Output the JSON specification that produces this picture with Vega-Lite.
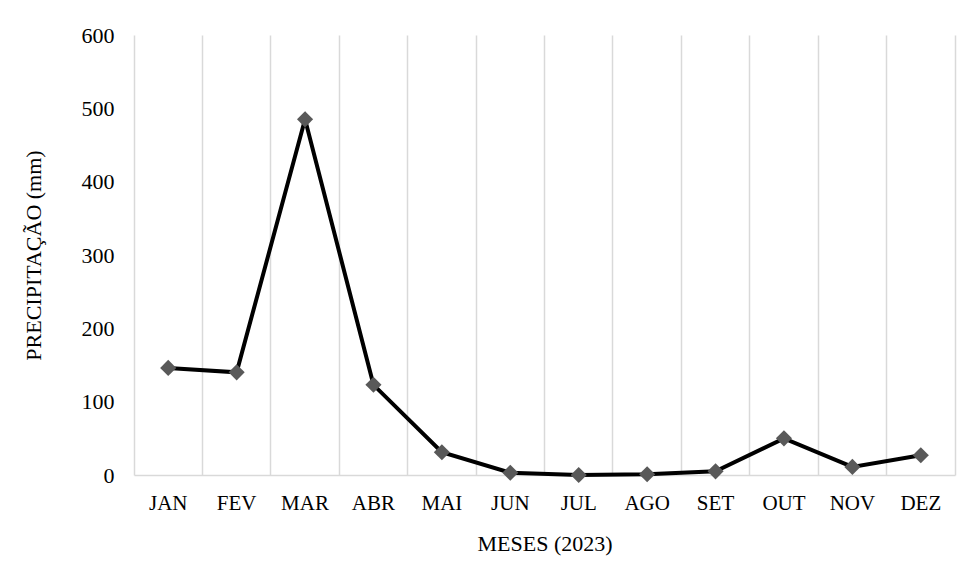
{
  "$schema": "https://vega.github.io/schema/vega-lite/v6.json",
  "width": 821,
  "height": 440,
  "autosize": {"type": "none"},
  "padding": {"left": 134, "top": 35, "right": 18, "bottom": 101},
  "background": "white",
  "config": {
    "view": {"stroke": null},
    "font": "Liberation Serif"
  },
  "data": {
    "values": [
      {"mes": "JAN", "precip": 146},
      {"mes": "FEV", "precip": 140},
      {"mes": "MAR", "precip": 485},
      {"mes": "ABR", "precip": 123},
      {"mes": "MAI", "precip": 31},
      {"mes": "JUN", "precip": 3},
      {"mes": "JUL", "precip": 0},
      {"mes": "AGO", "precip": 1},
      {"mes": "SET", "precip": 5},
      {"mes": "OUT", "precip": 50},
      {"mes": "NOV", "precip": 11},
      {"mes": "DEZ", "precip": 27}
    ]
  },
  "encoding": {
    "x": {
      "field": "mes",
      "type": "ordinal",
      "sort": null,
      "scale": {"type": "band", "paddingInner": 0, "paddingOuter": 0},
      "axis": {
        "title": "MESES (2023)",
        "titleFont": "Liberation Serif",
        "titleFontSize": 22,
        "titleFontWeight": "normal",
        "titleColor": "#000000",
        "titlePadding": 20,
        "labelFont": "Liberation Serif",
        "labelFontSize": 21,
        "labelColor": "#000000",
        "labelAngle": 0,
        "labelPadding": 17,
        "bandPosition": 1,
        "ticks": false,
        "grid": true,
        "gridColor": "#d9d9d9",
        "gridWidth": 1.5,
        "domainColor": "#d9d9d9",
        "domainWidth": 1.5
      }
    },
    "y": {
      "field": "precip",
      "type": "quantitative",
      "scale": {"domain": [0, 600], "nice": false},
      "axis": {
        "title": "PRECIPITAÇÃO (mm)",
        "titleFont": "Liberation Serif",
        "titleFontSize": 22,
        "titleFontWeight": "normal",
        "titleColor": "#000000",
        "titlePadding": 36,
        "labelFont": "Liberation Serif",
        "labelFontSize": 22,
        "labelColor": "#000000",
        "labelPadding": 20,
        "values": [0, 100, 200, 300, 400, 500, 600],
        "ticks": false,
        "grid": false,
        "domainColor": "#d9d9d9",
        "domainWidth": 1.5
      }
    }
  },
  "layer": [
    {"mark": {"type": "line", "color": "#000000", "strokeWidth": 4}},
    {"mark": {"type": "point", "shape": "diamond", "filled": true, "color": "#595959", "opacity": 1, "size": 260}}
  ]
}
